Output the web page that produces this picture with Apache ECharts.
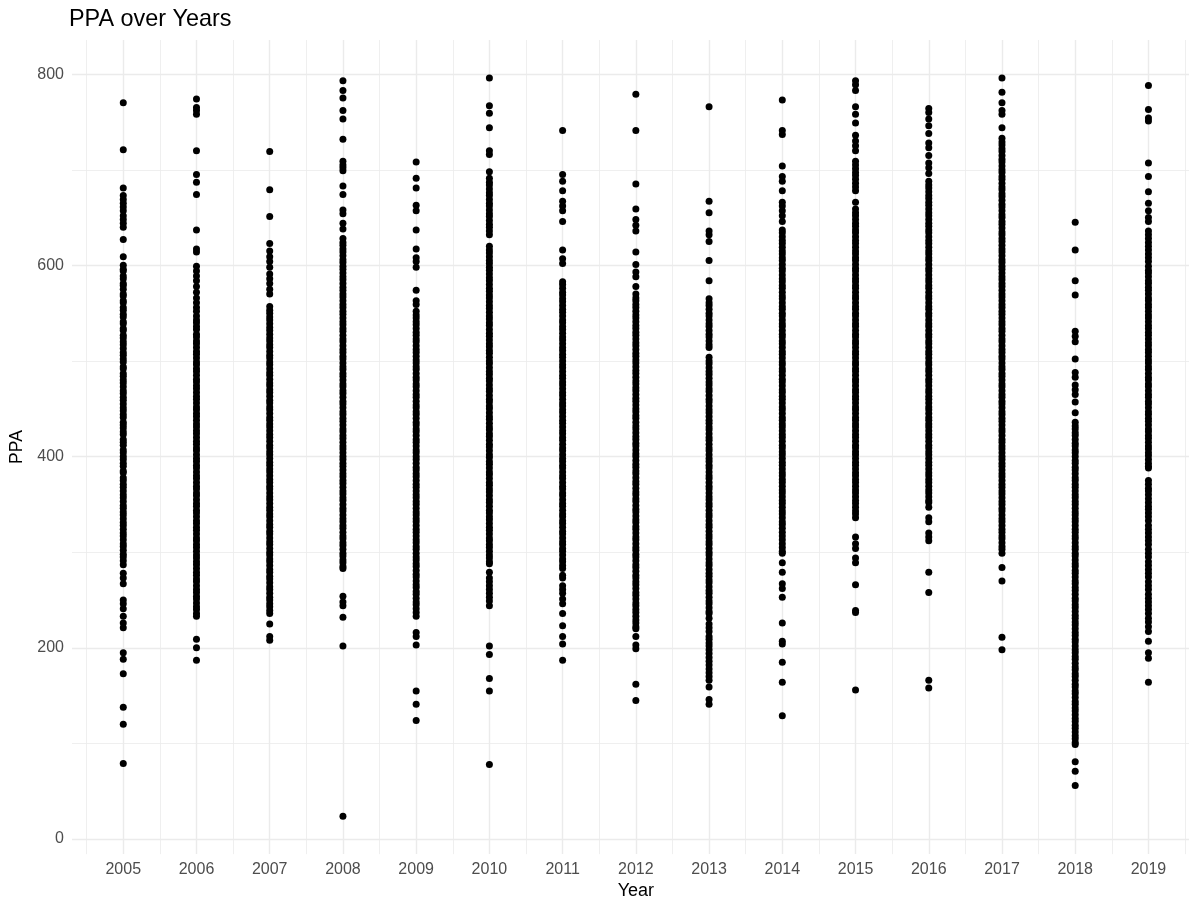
<!DOCTYPE html>
<html>
<head>
<meta charset="utf-8">
<title>PPA over Years</title>
<script src="https://cdn.jsdelivr.net/npm/echarts@6/dist/echarts.min.js"></script>
<style>
  html, body { margin: 0; padding: 0; background: #ffffff; overflow: hidden; }
  /* the plotting panel runs slightly past the right edge of the window */
  #chart { width: 1201px; height: 905px; }
</style>
</head>
<body>
<div id="chart"></div>
<script>
// Years shown on the x axis
const years = [2005, 2006, 2007, 2008, 2009, 2010, 2011, 2012, 2013, 2014, 2015, 2016, 2017, 2018, 2019];

// PPA values observed in each year
const ppa2005 = [770, 721, 681, 673, 669, 665, 661, 657, 652, 648, 644, 640, 627, 609,
  600, 596, 594, 589, 586, 581, 579, 575, 570, 568, 563, 561, 556, 553, 549, 546, 541, 539, 534, 532, 527, 524,
  520, 517, 513, 509, 506, 502, 499, 494, 492, 487, 484, 480, 477, 473, 469, 466, 462, 459, 455, 451, 448, 444,
  441, 436, 433, 430, 426, 423, 418, 415, 412, 407, 404, 400, 397, 393, 390, 385, 383, 378, 375, 371, 368, 364,
  360, 357, 353, 349, 346, 342, 339, 335, 331, 328, 324, 320, 317, 313, 309, 306, 302, 298, 295, 291, 287,
  278, 273, 267, 250, 246, 241, 233, 226, 221, 195, 188, 173, 138, 120, 79];
const ppa2006 = [774, 765, 762, 758, 720, 695, 687, 674, 637, 617, 614, 599, 594, 589, 584, 578, 572, 566, 561, 556, 552,
  547, 543, 540, 536, 533, 528, 525, 521, 518, 514, 510, 507, 503, 499, 496, 492, 489, 485, 481, 478, 474, 471,
  467, 463, 460, 456, 452, 449, 445, 442, 438, 434, 431, 427, 424, 420, 416, 413, 409, 406, 402, 398, 395, 391,
  388, 384, 380, 377, 373, 369, 366, 362, 359, 355, 351, 348, 344, 341, 337, 333, 330, 326, 323, 319, 315, 312,
  308, 305, 301, 297, 294, 290, 287, 283, 279, 276, 272, 269, 265, 261, 258, 254, 251, 247, 243, 240, 236, 233,
  209, 200, 187];
const ppa2007 = [719, 679, 651, 623, 615, 609, 604, 598, 591, 586, 581, 575, 570,
  557, 553, 550, 546, 543, 539, 535, 532, 528, 524, 521, 517, 514, 510, 506, 503, 499, 496, 492, 488, 485, 481,
  477, 474, 470, 467, 463, 459, 456, 452, 449, 445, 441, 438, 434, 431, 427, 423, 420, 416, 412, 409, 405, 402,
  398, 394, 391, 387, 384, 380, 376, 373, 369, 366, 362, 358, 355, 351, 347, 344, 340, 337, 333, 329, 326, 322,
  319, 315, 311, 308, 304, 300, 297, 293, 290, 286, 282, 279, 275, 272, 268, 264, 261, 257, 253, 250, 246, 243,
  239, 236, 225, 212, 208];
const ppa2008 = [793, 783, 775, 762, 753, 732, 709, 705, 702, 699, 683, 674, 658, 654, 644, 638,
  628, 624, 621, 617, 614, 610, 606, 603, 599, 596, 592, 588, 585, 581, 577, 574, 570, 567, 563, 559, 556, 552,
  549, 545, 541, 538, 534, 531, 527, 523, 520, 516, 512, 509, 505, 502, 498, 494, 491, 487, 484, 480, 476, 473,
  469, 466, 462, 458, 455, 451, 447, 444, 440, 437, 433, 429, 426, 422, 419, 415, 411, 408, 404, 400, 397, 393,
  390, 386, 382, 379, 375, 372, 368, 364, 361, 357, 354, 350, 346, 343, 339, 335, 332, 328, 325, 321, 317, 314,
  310, 307, 303, 299, 296, 292, 289, 285, 283, 254, 248, 244, 232, 202, 24];
const ppa2009 = [708, 691, 681, 663, 657, 637, 617, 608, 604, 598, 574, 563, 559,
  552, 548, 545, 541, 538, 534, 530, 527, 523, 520, 516, 512, 509, 505, 501, 498, 494, 491, 487, 483, 480, 476,
  473, 469, 465, 462, 458, 454, 451, 447, 444, 440, 436, 433, 429, 426, 422, 418, 415, 411, 407, 404, 400, 397,
  393, 389, 386, 382, 379, 375, 371, 368, 364, 360, 357, 353, 350, 346, 342, 339, 335, 332, 328, 324, 321, 317,
  313, 310, 306, 303, 299, 295, 292, 288, 285, 281, 277, 274, 270, 266, 263, 259, 256, 252, 248, 245, 241, 237,
  233, 216, 212, 203, 155, 141, 124];
const ppa2010 = [796, 767, 759, 744, 720, 716, 698, 691, 687, 684, 680, 676, 673, 669, 665, 662, 658, 654, 651, 647,
  643, 640, 636, 632, 620, 616, 613, 609, 605, 602, 598, 595, 591, 587, 584, 580, 576, 573, 569, 566, 562, 558,
  555, 551, 547, 544, 540, 537, 533, 529, 526, 522, 518, 515, 511, 508, 504, 500, 497, 493, 489, 486, 482, 479,
  475, 471, 468, 464, 460, 457, 453, 450, 446, 442, 439, 435, 431, 428, 424, 421, 417, 413, 410, 406, 402, 399,
  395, 392, 388, 384, 381, 377, 373, 370, 366, 363, 359, 355, 352, 348, 344, 341, 337, 334, 330, 326, 323, 319,
  315, 312, 308, 305, 301, 297, 294, 290, 288, 279, 273, 269, 265, 261, 257, 253, 249, 244, 202, 193, 168, 155, 78];
const ppa2011 = [741, 695, 688, 678, 667, 662, 657, 646, 616, 607, 602,
  583, 580, 576, 572, 569, 565, 562, 558, 554, 551, 547, 543, 540, 536, 533, 529, 525, 522, 518, 514, 511, 507,
  504, 500, 496, 493, 489, 485, 482, 478, 475, 471, 467, 464, 460, 456, 453, 449, 446, 442, 438, 435, 431, 427,
  424, 420, 417, 413, 409, 406, 402, 398, 395, 391, 388, 384, 380, 377, 373, 369, 366, 362, 359, 355, 351, 348,
  344, 340, 337, 333, 330, 326, 322, 319, 315, 311, 308, 304, 301, 297, 293, 290, 286, 283,
  276, 273, 265, 261, 257, 251, 246, 236, 223, 212, 204, 187];
const ppa2012 = [779, 741, 685, 659, 648, 642, 636, 614, 601, 593, 588, 578,
  570, 566, 563, 559, 556, 552, 548, 545, 541, 537, 534, 530, 527, 523, 519, 516, 512, 508, 505, 501, 498, 494,
  490, 487, 483, 479, 476, 472, 469, 465, 461, 458, 454, 450, 447, 443, 440, 436, 432, 429, 425, 421, 418, 414,
  411, 407, 403, 400, 396, 392, 389, 385, 382, 378, 374, 371, 367, 363, 360, 356, 353, 349, 345, 342, 338, 334,
  331, 327, 324, 320, 316, 313, 309, 305, 302, 298, 295, 291, 287, 284, 280, 276, 273, 269, 266, 262, 258, 255,
  251, 247, 244, 240, 237, 233, 229, 226, 222, 220, 212, 203, 199, 162, 145];
const ppa2013 = [766, 667, 655, 636, 632, 625, 605, 584, 565, 561, 558, 554, 550, 547, 543, 539, 536, 532, 528, 525,
  521, 517, 514, 504, 500, 497, 493, 489, 486, 482, 478, 475, 471, 468, 464, 460, 457, 453, 449, 446, 442, 438,
  435, 431, 428, 424, 420, 417, 413, 409, 406, 402, 398, 395, 391, 388, 384, 380, 377, 373, 369, 366, 362, 358,
  355, 351, 348, 344, 340, 337, 333, 329, 326, 322, 318, 315, 311, 308, 304, 300, 297, 293, 289, 286, 282, 278,
  275, 271, 268, 264, 260, 257, 253, 249, 246, 242, 238, 236, 231, 225, 221, 217, 212, 209, 205, 202, 198, 194,
  190, 186, 182, 178, 174, 170, 166, 159, 146, 141];
const ppa2014 = [773, 741, 737, 704, 693, 688, 678, 666, 662, 657, 652, 646,
  637, 634, 630, 626, 623, 619, 615, 612, 608, 605, 601, 597, 594, 590, 586, 583, 579, 576, 572, 568, 565, 561,
  557, 554, 550, 547, 543, 539, 536, 532, 528, 525, 521, 518, 514, 510, 507, 503, 499, 496, 492, 489, 485, 481,
  478, 474, 470, 467, 463, 460, 456, 452, 449, 445, 441, 438, 434, 431, 427, 423, 420, 416, 412, 409, 405, 402,
  398, 394, 391, 387, 383, 380, 376, 373, 369, 365, 362, 358, 354, 351, 347, 343, 340, 336, 332, 329, 325, 321,
  317, 313, 309, 305, 301, 299, 289, 279, 267, 262, 253, 226, 207, 204, 185, 164, 129];
const ppa2015 = [793, 789, 783, 766, 758, 749, 736, 730, 725, 720, 709, 705, 701, 697, 694, 690, 686, 682, 678, 666,
  659, 655, 652, 648, 644, 641, 637, 634, 630, 626, 623, 619, 615, 612, 608, 605, 601, 597, 594, 590, 586, 583,
  579, 576, 572, 568, 565, 561, 557, 554, 550, 547, 543, 539, 536, 532, 528, 525, 521, 518, 514, 510, 507, 503,
  499, 496, 492, 489, 485, 481, 478, 474, 470, 467, 463, 460, 456, 452, 449, 445, 441, 438, 434, 431, 427, 423,
  420, 416, 412, 409, 405, 402, 398, 394, 391, 387, 383, 380, 376, 373, 369, 365, 362, 358, 354, 351, 347, 343,
  340, 336, 316, 309, 304, 294, 289, 266, 239, 237, 156];
const ppa2016 = [764, 760, 753, 746, 738, 728, 723, 715, 707, 702, 696,
  688, 684, 681, 677, 673, 670, 666, 663, 659, 655, 652, 648, 644, 641, 637, 634, 630, 626, 623, 619, 615, 612,
  608, 605, 601, 597, 594, 590, 586, 583, 579, 576, 572, 568, 565, 561, 557, 554, 550, 547, 543, 539, 536, 532,
  528, 525, 521, 518, 514, 510, 507, 503, 499, 496, 492, 489, 485, 481, 478, 474, 470, 467, 463, 460, 456, 452,
  449, 445, 441, 438, 434, 431, 427, 423, 420, 416, 412, 409, 405, 402, 398, 394, 391, 387, 383, 380, 376, 373,
  369, 365, 362, 358, 354, 352, 347, 336, 332, 320, 316, 312, 279, 258, 166, 158];
const ppa2017 = [796, 781, 770, 762, 758, 744,
  733, 729, 726, 722, 719, 715, 711, 708, 704, 700, 697, 693, 690, 686, 682, 679, 675, 672, 668, 664, 661, 657,
  653, 650, 646, 643, 639, 635, 632, 628, 625, 621, 617, 614, 610, 606, 603, 599, 596, 592, 588, 585, 581, 578,
  574, 570, 567, 563, 559, 556, 552, 549, 545, 541, 538, 534, 531, 527, 523, 520, 516, 512, 509, 505, 502, 498,
  494, 491, 487, 484, 480, 476, 473, 469, 465, 462, 458, 455, 451, 447, 444, 440, 437, 433, 429, 426, 422, 418,
  415, 411, 408, 404, 400, 397, 393, 390, 386, 382, 379, 375, 371, 368, 364, 361, 357, 353, 350, 346, 343, 339,
  335, 332, 328, 324, 321, 317, 314, 310, 306, 303, 299, 284, 270, 211, 198];
const ppa2018 = [645, 616, 584, 569, 531, 526, 520, 502, 488, 483, 475, 470, 465, 457, 446,
  436, 432, 429, 425, 422, 418, 414, 411, 407, 404, 400, 396, 393, 389, 386, 382, 378, 375, 371, 368, 364, 360,
  357, 353, 350, 346, 342, 339, 335, 332, 328, 324, 321, 317, 314, 310, 306, 303, 299, 296, 292, 288, 285, 281,
  278, 274, 270, 267, 263, 260, 256, 252, 249, 245, 242, 238, 234, 231, 227, 224, 220, 216, 213, 209, 206, 202,
  198, 195, 191, 188, 184, 180, 177, 173, 170, 166, 162, 159, 155, 152, 148, 144, 141, 137, 134, 130, 126, 123,
  119, 116, 112, 108, 105, 101, 99, 81, 71, 56];
const ppa2019 = [788, 763, 754, 751, 707, 693, 677, 665, 657, 650, 646, 636, 632, 628, 624, 620, 616, 612, 608, 604,
  599, 595, 592, 588, 584, 581, 577, 574, 570, 566, 563, 559, 556, 552, 548, 545, 541, 537, 534, 530, 527, 523,
  519, 516, 512, 509, 505, 501, 498, 494, 491, 487, 483, 480, 476, 473, 469, 465, 462, 458, 455, 451, 447, 444,
  440, 437, 433, 429, 426, 422, 419, 415, 411, 408, 404, 401, 397, 393, 390, 388,
  375, 371, 367, 364, 360, 356, 352, 348, 345, 341, 337, 333, 328, 324, 320, 316, 312, 308, 303, 299, 295, 290,
  286, 282, 278, 274, 269, 265, 261, 256, 252, 248, 244, 240, 236, 231, 227, 222, 217, 207, 195, 189, 164];

// Y axis labelled ticks and the minor gridline positions between them
const yTicks = [0, 200, 400, 600, 800];
const yMinor = [100, 300, 500, 700];

const ppaByYear = [ppa2005, ppa2006, ppa2007, ppa2008, ppa2009, ppa2010, ppa2011, ppa2012,
  ppa2013, ppa2014, ppa2015, ppa2016, ppa2017, ppa2018, ppa2019];

const points = [];
years.forEach((yr, i) => {
  ppaByYear[i].forEach(v => points.push([yr, v]));
});

// Panel extent: data range padded by 5% on each side
const xMin = 2004.3, xMax = 2019.7;
const yMin = -15.7, yMax = 835.7;

const gridColor = '#EBEBEB';
const xMinor = years.map(y => y - 0.5).concat([years[years.length - 1] + 0.5]);

const gridLines = []
  .concat(yMinor.map(v => ({ yAxis: v, lineStyle: { width: 0.8, color: gridColor } })))
  .concat(xMinor.map(v => ({ xAxis: v, lineStyle: { width: 0.8, color: gridColor } })))
  .concat(yTicks.map(v => ({ yAxis: v, lineStyle: { width: 1.4, color: gridColor } })))
  .concat(years.map(v => ({ xAxis: v, lineStyle: { width: 1.4, color: gridColor } })));

const font = '"Liberation Sans", Arial, sans-serif';

const chart = echarts.init(document.getElementById('chart'), null, { renderer: 'canvas' });
chart.setOption({
  animation: false,
  backgroundColor: '#ffffff',
  title: {
    text: 'PPA over Years',
    left: 69,
    top: 8,
    padding: 0,
    textStyle: { fontFamily: font, fontSize: 23.4, fontWeight: 'normal', color: '#000000' }
  },
  grid: { left: 69.3, top: 40, width: 1130.4, height: 815.2, containLabel: false },
  xAxis: {
    type: 'value',
    min: xMin,
    max: xMax,
    name: 'Year',
    nameLocation: 'middle',
    nameGap: 26,
    nameTextStyle: { fontFamily: font, fontSize: 18, color: '#000000' },
    axisLine: { show: false },
    axisTick: { show: false },
    splitLine: { show: false },
    axisLabel: {
      customValues: years,
      formatter: v => String(Math.round(v)),
      fontFamily: font,
      fontSize: 16,
      color: '#4D4D4D',
      margin: 7
    }
  },
  yAxis: {
    type: 'value',
    min: yMin,
    max: yMax,
    name: 'PPA',
    nameLocation: 'middle',
    nameGap: 46,
    nameRotate: 90,
    nameTextStyle: { fontFamily: font, fontSize: 17.5, color: '#000000' },
    axisLine: { show: false },
    axisTick: { show: false },
    splitLine: { show: false },
    axisLabel: {
      customValues: yTicks,
      fontFamily: font,
      fontSize: 16,
      color: '#4D4D4D',
      margin: 8
    }
  },
  series: [
    {
      // background grid, kept underneath the points
      type: 'scatter',
      data: [],
      z: 1,
      silent: true,
      markLine: {
        z: 1,
        silent: true,
        symbol: 'none',
        label: { show: false },
        animation: false,
        lineStyle: { type: 'solid' },
        emphasis: { disabled: true },
        data: gridLines
      }
    },
    {
      type: 'scatter',
      data: points,
      z: 10,
      symbol: 'circle',
      symbolSize: 7,
      large: false,
      itemStyle: { color: '#000000', opacity: 1, borderWidth: 0 },
      emphasis: { disabled: true }
    }
  ]
});
</script>
</body>
</html>
